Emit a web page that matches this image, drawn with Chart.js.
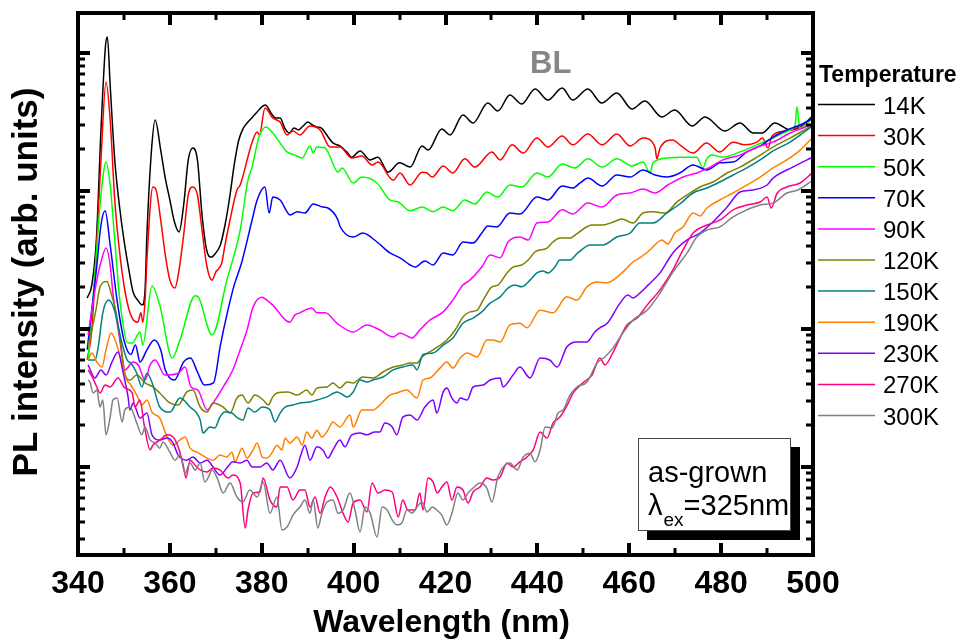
<!DOCTYPE html>
<html>
<head>
<meta charset="utf-8">
<script src="https://cdn.jsdelivr.net/npm/chart.js@4.4.1/dist/chart.umd.min.js"></script>
<style>
  html, body { margin: 0; padding: 0; background: #ffffff; }
  #wrap { width: 963px; height: 640px; position: relative; }
</style>
</head>
<body>
<div id="wrap"><canvas id="pl" width="963" height="640"></canvas></div>
<script>
// Temperature-dependent PL spectra, [wavelength (nm), intensity (arb. units)]
const temperatures = ['14K', '30K', '50K', '70K', '90K', '120K', '150K', '190K', '230K', '270K', '300K'];
const lineColors = ['#000000', '#ff0000', '#00ff00', '#0000ff', '#ff00ff', '#808000', '#008080', '#ff8000', '#8000ff', '#ff0080', '#808080'];
const xTicks = [340, 360, 380, 400, 420, 440, 460, 480, 500];

const pl14K = [[342,168],[343,208],[344,442],[345,2770],[346,11430],[346.4,13060],[347,5860],[348,1678],[349,792],[350,442],[351,277],[352,185],[353,162],[354,149],[354.6,192],[355,480],[356,1980],[356.8,3270],[358,1980],[359,1240],[360,861],[361,596],[362,505],[363,792],[364,1678],[365,2050],[366,1678],[367,670],[368,374],[369,332],[370,356],[371,407],[372,567],[373,890],[374,1544],[375,2340],[376,2860],[377,3160],[378,3440],[379,3740],[380,4070],[380.8,4200],[382,3680],[383,3380],[384,3380],[385,2860],[386,2630],[387,2860],[388,2770],[389,2960],[390,3160],[391,3010],[392,2910],[393,2860],[394,2590],[395.5,2230],[397,2120],[398.5,1920],[399.6,1760],[401.4,1950],[403.6,1680],[405.3,1760],[407.5,1370],[410,1600],[412.3,1490],[414.9,2120],[416.2,1980],[419.2,2810],[421,2550],[423.8,3560],[426,3110],[429.2,4340],[431.4,3800],[434,4960],[436.6,4270],[439.5,5490],[442.3,4560],[445.4,5580],[447.7,4560],[451,5490],[454,4340],[457.3,5130],[460.6,3930],[463.4,4490],[467.1,3440],[469.9,3860],[473.7,2960],[476.5,3440],[480.8,2720],[484.1,3110],[487,2630],[488.9,2630],[491.7,3110],[495,2770],[497.2,2910],[500,3500]];

const pl30K = [[342,59.6],[343,98],[344,374],[345,1680],[346.1,6170],[347,3270],[348,861],[349,374],[350,208],[351,142],[351.8,120],[353,112],[353.7,131],[354.1,112],[354.6,162],[355,316],[356.3,1069],[357,1017],[358,617],[359,344],[360,226],[361.1,198],[362,268],[363,480],[364,936],[365,1069],[366,936],[367,521],[368,291],[369.2,226],[370,259],[371.3,301],[372,407],[373,596],[374.6,1017],[375.3,1105],[377.9,2260],[379,2680],[379.5,2550],[380.7,4000],[382.4,3380],[384,3160],[385.5,2550],[386.8,2720],[388.3,2550],[390.5,2960],[392.7,2770],[394.9,2080],[397,2080],[399.6,1735],[401.8,1790],[404,1544],[405.3,1620],[408.6,1200],[410.1,1350],[412.3,1105],[414.9,1370],[416,1350],[417.1,1263],[419.5,1520],[421.6,1350],[424.2,1710],[426.4,1490],[430.1,1920],[431.9,1680],[434.5,2160],[436.9,1885],[439.9,2420],[442.3,2080],[445.4,2500],[447.7,2160],[451,2590],[454.1,2160],[457.3,2590],[460.2,2120],[463,2420],[465.6,2080],[466,1710],[466.7,2050],[469.5,2340],[471,2160],[473.9,1885],[476.8,2230],[479.7,1920],[482.6,2260],[485.2,2160],[487.8,2260],[489,2420],[490.2,2050],[491.1,2500],[493.9,2720],[496.5,2860],[499.3,3270],[500,3440]];

const pl50K = [[342.2,59.6],[343.9,316],[345,936],[346.1,1620],[347,1105],[348,442],[349.1,162],[350.9,79.2],[351.8,79.2],[353.5,95.1],[354.1,76.5],[356.1,205],[357.8,149],[360.5,61.7],[362.2,83.3],[365.5,174],[366.3,168],[369.2,90.3],[372.4,226],[375.3,521],[377,1200],[377.9,1490],[379.4,2460],[380.9,2910],[382.4,2630],[385.5,1920],[387.2,1820],[388.8,1735],[390.5,2120],[391.2,1885],[392,2080],[393.8,2050],[394.4,1920],[396.6,1370],[397.5,1470],[399.9,1143],[401.8,1263],[405.1,1143],[407.9,861],[409.7,833],[412.3,718],[414.9,765],[417.3,707],[419.5,765],[421.6,718],[424.2,861],[426.4,805],[429,983],[431.4,903],[434,1105],[436.6,1069],[439.9,1350],[442.3,1263],[445.4,1570],[448.2,1470],[451,1710],[454.1,1490],[457.3,1710],[460.6,1520],[463,1620],[464.5,1350],[465.2,1600],[468.2,1735],[471.5,1760],[474.7,1760],[476,1470],[476.9,1710],[478,1820],[480.4,1760],[484.1,1920],[487.8,2160],[491.3,2420],[495,2770],[496.1,3010],[496.5,4070],[497,3010],[497.2,2860],[499.3,3220],[500,3380]];

const pl70K = [[342,70.7],[344,268],[345,567],[345.9,718],[347,407],[348.5,162],[350,83.3],[351.5,65.4],[352.5,76.5],[353.5,57.7],[355,70.7],[356.6,83.3],[358,70.7],[359,50.5],[361,42.7],[363,57.7],[364.5,61.7],[366,48.8],[367.5,39.3],[369.5,40.7],[371,76.5],[372.5,131],[374,208],[375.6,301],[377.9,617],[379,861],[380.7,1069],[381.6,693],[382.4,903],[384,861],[386.2,670],[387.7,707],[389.4,693],[391.2,805],[393.3,765],[394.4,753],[396.6,617],[397,558],[399.9,464],[402,496],[405.1,427],[407.9,356],[410.1,328],[412.3,291],[413.4,281],[415.5,311],[417.3,291],[419.5,356],[421.6,344],[423.8,427],[426,420],[427.9,496],[429.2,558],[431.2,549],[434,693],[436.2,681],[439.9,903],[442.3,861],[445.4,1087],[447.7,1051],[449.3,1143],[451,1240],[454.1,1087],[457.3,1306],[460.2,1263],[463,1420],[465.6,1306],[468.2,1263],[471,1350],[473.9,1544],[476.9,1420],[478.2,1490],[479.7,1600],[482.6,1620],[485.6,1920],[488.5,2120],[491.3,2460],[494.3,2770],[497.2,3010],[499.3,3270],[500,3380]];

const pl90K = [[342.2,90.3],[343,137],[344.1,226],[345,306],[346.1,386],[347,291],[347.6,182],[349.1,83.3],[350.2,50.5],[352,57.7],[353.1,54.9],[354.6,42.7],[355.7,54.9],[356.8,59.6],[358.9,46.4],[361.8,47.8],[363.3,53],[364.6,38],[366.1,36.1],[368.1,25.9],[369.4,29.1],[371.6,38],[373.7,50.5],[375.3,70.7],[376.8,98.3],[378.1,144],[380,170],[381.1,162],[382.4,149],[386.1,112],[387.2,126],[388.3,131],[390.9,142],[392,131],[393.8,131],[396.4,110],[399.9,95.1],[402.9,107],[405.7,98.3],[408.6,87.5],[410.1,93.6],[412.7,86.1],[414.4,98.3],[416.6,116],[419.5,133],[421.6,162],[423.8,208],[425.3,226],[427.9,281],[429.7,344],[431.9,328],[433.6,427],[436.2,464],[438,442],[439.9,586],[442.3,596],[445.4,730],[447.7,681],[451,817],[454.1,765],[457.3,936],[460.2,967],[463,1034],[465.6,967],[468.4,1105],[471.7,1263],[474.7,1350],[477.6,1490],[480.4,1680],[484.1,1820],[487.8,2080],[491.3,2260],[495,2630],[499.3,3010],[500,3110]];

const pl120K = [[342.2,76.5],[343,98.3],[343.9,137],[344.8,202],[346.3,221],[347.2,182],[348.3,131],[349.4,74.1],[350.2,47.8],[351.3,42.7],[352.8,46.4],[354.6,40.7],[356.3,38],[357.8,34.4],[360,29.1],[361.8,28.1],[363.7,35],[365,36.1],[366.6,27.2],[368.1,25],[369.4,29.1],[371.6,27.2],[373.1,24.6],[374.6,31.6],[375.7,33.2],[377,29.1],[378.5,33.2],[380.3,30.6],[381.4,28.1],[382.4,32.2],[383.3,34.4],[385.7,35],[387.7,33.2],[389.8,36.1],[390.9,33.2],[392,37.4],[394.2,38],[395.5,40.7],[397,37.4],[398.6,41.3],[399.9,40.7],[402,44.9],[404.2,44.2],[406.4,48.8],[408.6,53],[410.7,54.9],[412.3,56.7],[413.8,56.7],[414.9,62.7],[417.3,70.7],[420.3,83.3],[422.1,98.3],[423.8,122],[425.3,133],[426.9,137],[428.2,162],[430.1,202],[431.4,208],[433.4,255],[434.7,281],[436.6,291],[438,316],[439.5,362],[442.1,386],[443.4,427],[444.9,456],[447.1,456],[448.8,496],[451.9,567],[454.3,567],[456.5,596],[458.4,627],[460.8,586],[463,693],[465.2,707],[467.8,693],[470.4,833],[472.6,936],[475.4,1069],[478.2,1162],[481.3,1350],[484.1,1490],[487.8,1760],[491.3,2080],[495,2420],[499.3,2910],[500,3010]];

const pl150K = [[342.2,59.6],[343.7,59.6],[344.4,74.1],[345.4,131],[346.7,162],[348.1,131],[349.4,83.3],[350.7,59.6],[351.5,56.7],[352.8,47.8],[353.9,38],[355,47.8],[356.3,39.3],[357.8,27.2],[360,25],[362.2,31.6],[364.4,27.2],[366.6,21.9],[367.2,17.6],[368.7,19.5],[369.8,19.2],[370.9,23],[372,25],[373.5,24.6],[374.8,22.6],[375.9,21.9],[377,26.8],[378.5,25],[380.1,27.2],[381.8,25.9],[382.9,21.2],[384,24.6],[385.1,27.2],[386.8,28.1],[388.3,29.1],[390.5,29.6],[392,30.6],[394.2,32.2],[396.4,35],[398.6,32.2],[399.9,35],[401.4,42.7],[402.9,41.3],[404.2,42.7],[406.4,44.9],[408.6,50.5],[410.7,53],[412.9,54.9],[413.8,50.5],[415.1,65.4],[417.3,67],[419.5,76.5],[421.6,86.1],[423.8,110],[426,120],[427.9,133],[429.7,154],[431.9,171],[433.6,198],[435.1,208],[436.6,202],[438.4,226],[439.9,255],[441.2,263],[442.3,255],[443.8,281],[444.9,316],[447.1,316],[448.8,356],[451.5,407],[454.3,407],[457.3,464],[460.2,496],[462.3,586],[465.2,586],[468.2,693],[471,805],[473.9,967],[476.9,1051],[479.7,1162],[482.6,1306],[485.6,1470],[488.5,1680],[491.3,1950],[495,2260],[499.3,2860],[500,2960]];

const pl190K = [[342.2,59.6],[343,67],[344.1,57.7],[345.2,53],[346.1,70.7],[347.2,93.6],[348.3,79.2],[349.4,59.6],[350.4,44.2],[351.5,39.3],[352.8,33.2],[353.9,28.1],[355,30.6],[356.1,25],[357.8,22.6],[359.4,16.5],[360.7,14.4],[362.2,15.7],[363.3,16.5],[364.4,13.7],[365.9,12.8],[368.1,11.6],[369.4,11.2],[370.9,12.2],[372.4,11.8],[373.5,12.8],[374.2,10.9],[375.7,13.7],[376.8,11.6],[378.1,13.3],[379,14.9],[380.1,11.8],[381.1,11.6],[382.2,12.6],[383.3,14.4],[384.4,13.3],[385.1,16.2],[386.1,14.9],[387.7,16.5],[388.8,14.4],[389.8,17.9],[390.9,16.2],[392,18.5],[393.1,16.5],[394.4,18.5],[395.5,21.2],[397,19.5],[399.2,23.8],[399.9,19.5],[401.8,25.9],[404.2,25.9],[405.7,28.1],[407.9,33.2],[409.4,34.4],[411.6,36.1],[413.8,31.6],[415.1,42.7],[416.6,44.2],[418.8,52.1],[420.3,57.7],[421.6,52.1],[423.2,61.7],[424.7,67],[426.9,62.7],[429,83.3],[430.3,83.3],[431.9,80.5],[434,107],[436.2,110],[437.7,102],[440.6,137],[443.4,131],[446.4,171],[448.6,162],[450.8,202],[453,219],[455.2,216],[456.5,226],[459.1,268],[460.8,306],[462.3,328],[464.5,374],[466,420],[467.1,442],[468.4,413],[469.9,496],[471.7,549],[473.9,693],[475.4,660],[476.9,753],[479.7,861],[482.6,967],[485.6,1105],[488.5,1263],[491.3,1470],[494.3,1680],[497.2,1980],[500,2460]];

const pl230K = [[342.2,54.9],[343.7,44.2],[345,50.5],[346.1,46.4],[347.4,57.7],[348.7,68.1],[349.8,48.8],[350.9,32.2],[351.3,25.9],[352,29.1],[353.5,22.6],[355,24.6],[356.1,17.1],[357.8,15.7],[359.4,16.2],[360.7,14.9],[361.8,12.2],[363.7,11.2],[365,11.8],[366.6,10.7],[368.1,11.2],[369.4,10],[370.9,8.75],[372.4,9.83],[373.7,10.9],[375.3,10.7],[376.8,11.2],[377.9,10],[379.6,10],[381.1,10.7],[382.4,9.52],[384,11.2],[386.1,8.33],[387.7,10],[388.5,12.2],[389.4,14.4],[390.5,11.2],[392,14],[393.3,13.3],[394.4,11.6],[395.5,13.3],[397,15.7],[398.1,14],[399.6,17.1],[401.4,17.6],[402.9,17.1],[404.6,17.9],[405.7,17.9],[406.8,20.8],[408.4,19.5],[409.4,17.1],[410.7,23],[412.3,23.8],[413.8,21.9],[415.5,27.2],[417.3,30.6],[418.1,24.6],[419.5,35],[420.3,37.4],[421.4,31.6],[422.5,29.1],[423.2,31.6],[424.7,30.6],[426,38],[428.2,39.3],[429.7,42.7],[431.9,44.2],[432.5,38],[434.7,46.4],[436.2,53],[438.4,44.2],[440.6,61.7],[442.7,59.6],[444.3,53],[446.4,74.1],[448.6,80.5],[450.8,80.5],[452.5,95.1],[453.6,102],[455.2,110],[458,154],[459.7,176],[460.8,168],[462.3,182],[464.1,208],[466.7,255],[469.5,356],[472.6,442],[475.4,496],[478.2,596],[481.3,765],[484.1,983],[486.9,1017],[490,1105],[491.3,1240],[495.6,1490],[498.7,1680],[500,1760]];

const pl270K = [[342.2,50.5],[343.1,44.9],[343.9,39.3],[344.8,34.4],[345.9,39.3],[347,38],[348.7,44.2],[350.2,37.4],[351.8,34.4],[352.4,27.2],[353.5,30.6],[354.4,20.2],[355.7,13.3],[356.3,14.4],[357.9,15.7],[359.4,17.1],[360.7,16.5],[361.8,14],[362.9,10.3],[363.5,8.33],[364.4,11.2],[365.5,10.3],[366.6,9.52],[368.1,9.2],[369.4,9.83],[370.9,9.52],[372.7,8.33],[373.7,8.75],[375.3,7.66],[376.4,3.61],[377,4.88],[378.1,6.48],[379.6,6.59],[380.3,8.33],[381.8,5.76],[383.3,5.13],[384,7.16],[385.5,7.16],[386.8,5.76],[388.3,6.81],[389.4,6.81],[390.5,5.13],[391.6,6.06],[392.7,4.63],[393.8,6.06],[394.9,7.16],[396.4,6.06],[397.7,4.63],[398.8,3.99],[399.9,5.49],[401.4,5.76],[402.9,4.72],[404,7.66],[405.3,6.48],[406.8,6.81],[408.4,6.59],[409.7,4.34],[410.7,5.76],[411.8,4.88],[413.4,4.88],[414.4,6.48],[415.1,4.88],[416.2,8.33],[417.3,7.79],[418.2,6.48],[419.2,7.16],[420.3,7.79],[421.4,5.76],[422.5,7.16],[423.8,6.81],[424.9,5.49],[426,6.59],[427.5,7.16],[429,8.33],[430.3,8.05],[431.9,8.46],[433.4,10.7],[434.7,10],[436.2,10.9],[437.7,11.8],[439.1,13.3],[440.6,17.9],[442.1,16.2],[443.4,20.8],[444.9,23],[446.5,28.1],[447.8,34.4],[449.9,40.7],[451.9,46.4],[453.6,61.7],[454.7,54.9],[456.5,68.1],[458,86.1],[459.5,107],[461.7,120],[463.9,149],[466.7,192],[469.5,268],[471.7,374],[473.9,496],[476.9,567],[479.8,617],[482.6,730],[485.6,792],[488.5,833],[490,903],[490.9,753],[492.2,967],[494.3,1069],[497.2,1143],[500,1370]];

const pl300K = [[342.2,42.7],[342.6,41.3],[343.3,34.4],[344.1,36.1],[344.8,27.2],[345.4,30.6],[346.1,17.1],[347,23],[347.6,30.6],[348.5,31.6],[349.6,21.2],[350.2,25.9],[351.3,27.2],[352.8,20.8],[353.9,17.1],[354.6,19.5],[355.7,15.7],[356.8,14.9],[357.8,13.7],[358.5,15.2],[360,12.8],[361.1,11.2],[362.2,12.2],[363.3,9.05],[364.4,10.7],[365.5,9.52],[366.6,10.7],[367.6,7.79],[368.3,8.33],[369.2,9.52],[370.3,8.33],[371.6,6.48],[373.1,7.66],[374.6,6.06],[375.9,5.58],[377.4,6.81],[379,6.06],[380.3,7.79],[381.8,4.63],[383.3,6.06],[384.4,3.5],[385.5,3.67],[386.8,4.48],[388.3,5.13],[389.4,5.76],[390.5,4.63],[391.2,5.76],[392.2,3.61],[393.1,4.63],[394.2,5.58],[395.5,5.76],[396.6,4.63],[397.7,4.88],[399.2,6.48],[400.3,4.88],[401.4,3.38],[402.5,5.13],[403.6,4.63],[405.1,3.11],[406.2,5.13],[407.3,4.88],[408.4,4.13],[409.4,3.8],[410.5,3.93],[411.6,4.88],[412.7,4.63],[413.8,5.13],[414.9,5.58],[416,4.72],[417.1,5.13],[418.1,4.88],[419.2,4.48],[420.3,3.8],[421.4,4.63],[422.7,6.48],[423.8,5.76],[424.9,6.48],[426,7.04],[427.5,7.66],[429,7.04],[430.1,5.58],[431.4,8.46],[432.9,10.3],[434,10.7],[435.6,9.52],[436.9,11.8],[438.4,12.6],[439.5,10.9],[440.6,13.3],[441.7,19.5],[443.2,19.2],[444.5,24.6],[445.6,25.9],[447.1,33.2],[448.6,38],[450.8,41.3],[453,56.7],[454.7,62.7],[456.5,73],[458.6,93.6],[460.8,116],[463.9,137],[466.7,182],[469.5,259],[472.6,356],[474.7,464],[476.9,521],[479.7,549],[482.6,649],[485.6,730],[488.5,792],[491.3,817],[494.3,967],[496.7,1017],[500,1200]];

const spectra = [pl14K, pl30K, pl50K, pl70K, pl90K, pl120K, pl150K, pl190K, pl230K, pl270K, pl300K];

// Axis limits of the plot frame
const X_MIN = 340, X_MAX = 500;
const Y_MIN = 2.303, Y_MAX = 19495;

const FONT = '"Liberation Sans", Arial, Helvetica, sans-serif';

// Frame, inward ticks, labels, legend and annotations drawn on top of the curves
const decorations = {
  id: 'decorations',
  afterDraw(chart) {
    const { ctx, chartArea: a, scales: { x, y } } = chart;
    ctx.save();
    ctx.strokeStyle = '#000';
    ctx.fillStyle = '#000';
    ctx.lineCap = 'butt';

    // x ticks (top and bottom, pointing inward)
    for (let v = X_MIN; v <= X_MAX; v += 10) {
      const px = Math.round(x.getPixelForValue(v));
      const major = v % 20 === 0;
      const len = major ? 12 : 7;
      ctx.lineWidth = major ? 4 : 3;
      ctx.beginPath();
      ctx.moveTo(px, a.bottom); ctx.lineTo(px, a.bottom - len);
      ctx.moveTo(px, a.top); ctx.lineTo(px, a.top + len);
      ctx.stroke();
    }
    // y ticks (log decades with minor ticks, left and right)
    for (let d = 0; d <= 4; d++) {
      for (let m = 1; m <= 9; m++) {
        const v = m * Math.pow(10, d);
        if (v < Y_MIN || v > Y_MAX) continue;
        const py = Math.round(y.getPixelForValue(v));
        const major = m === 1;
        const len = major ? 12 : 7;
        ctx.lineWidth = major ? 4 : 3;
        ctx.beginPath();
        ctx.moveTo(a.left, py); ctx.lineTo(a.left + len, py);
        ctx.moveTo(a.right, py); ctx.lineTo(a.right - len, py);
        ctx.stroke();
      }
    }
    // frame
    ctx.lineWidth = 4;
    ctx.strokeRect(a.left, a.top, a.right - a.left, a.bottom - a.top);

    // x tick labels
    ctx.font = 'bold 32px ' + FONT;
    ctx.textAlign = 'center';
    ctx.textBaseline = 'alphabetic';
    xTicks.forEach(v => ctx.fillText(String(v), x.getPixelForValue(v), a.bottom + 38));

    // axis titles
    ctx.fillText('Wavelength (nm)', (a.left + a.right) / 2 - 4, a.bottom + 77);
    ctx.save();
    ctx.font = 'bold 35px ' + FONT;
    ctx.translate(37, (a.top + a.bottom) / 2 - 2);
    ctx.rotate(-Math.PI / 2);
    ctx.fillText('PL intensity (arb. units)', 0, 0);
    ctx.restore();

    // legend
    ctx.textAlign = 'left';
    ctx.font = 'bold 23px ' + FONT;
    ctx.fillText('Temperature', 819, 82);
    ctx.font = '24px ' + FONT;
    chart.data.datasets.forEach((ds, i) => {
      const ly = 104.5 + i * 31.1;
      ctx.strokeStyle = ds.borderColor;
      ctx.lineWidth = 1.5;
      ctx.beginPath();
      ctx.moveTo(818, ly); ctx.lineTo(875, ly);
      ctx.stroke();
      ctx.fillStyle = '#000';
      ctx.fillText(ds.label, 883, ly + 9);
    });

    // band label
    ctx.font = 'bold 31px ' + FONT;
    ctx.fillStyle = '#868686';
    ctx.fillText('BL', 530, 73);

    // sample / excitation inset with drop shadow
    ctx.fillStyle = '#000';
    ctx.fillRect(647, 447, 153, 93);
    ctx.fillStyle = '#fff';
    ctx.fillRect(638, 438, 153, 93);
    ctx.strokeStyle = '#444';
    ctx.lineWidth = 1;
    ctx.strokeRect(638.5, 438.5, 152, 92);
    ctx.fillStyle = '#000';
    ctx.font = '29px ' + FONT;
    ctx.fillText('as-grown', 648, 482);
    ctx.fillText('\u03bb', 648, 515);
    const lw = ctx.measureText('\u03bb').width;
    ctx.font = '19px ' + FONT;
    ctx.fillText('ex', 648 + lw + 1, 526);
    const ew = ctx.measureText('ex').width;
    ctx.font = '29px ' + FONT;
    ctx.fillText('=325nm', 648 + lw + 1 + ew, 515);

    ctx.restore();
  }
};

new Chart(document.getElementById('pl'), {
  type: 'line',
  data: {
    datasets: spectra.map((s, i) => ({
      label: temperatures[i],
      data: s.map(([w, v]) => ({ x: w, y: v })),
      borderColor: lineColors[i],
      borderWidth: 1.5,
      pointRadius: 0,
      cubicInterpolationMode: 'monotone',
      fill: false,
      order: spectra.length - i
    }))
  },
  options: {
    responsive: false,
    animation: false,
    layout: { padding: { left: 78, right: 150, top: 13, bottom: 85 } },
    scales: {
      x: { type: 'linear', min: X_MIN, max: X_MAX, display: false },
      y: { type: 'logarithmic', min: Y_MIN, max: Y_MAX, display: false }
    },
    plugins: { legend: { display: false }, tooltip: { enabled: false } }
  },
  plugins: [decorations]
});
</script>
</body>
</html>
